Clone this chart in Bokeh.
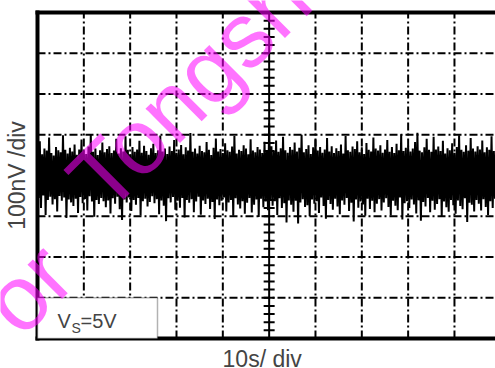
import numpy as np
from bokeh.plotting import figure
from bokeh.models import BoxAnnotation, Label, ColumnDataSource
from bokeh.embed import file_html
from bokeh.resources import INLINE

# ---- data ----
# time axis: 10 s/div, 10 divisions; amplitude: 100 nV/div, 8 divisions
sample_step_s = 0.25
# positive excursions (nV) every 0.5 s
hi = [58, 84, 52, 66, 61, 93, 55, 49, 70, 62,
      57, 99, 63, 54, 68, 59, 76, 51, 64, 88,
      60, 53, 71, 102, 58, 66, 50, 62, 81, 57,
      65, 72, 55, 61, 90, 54, 67, 59, 96, 63,
      52, 70, 58, 64, 85, 56, 73, 60, 51, 67,
      78, 55, 62, 98, 59, 66, 53, 71, 60, 87,
      56, 64, 75, 52, 69, 61, 104, 58, 66, 54,
      73, 60, 57, 82, 63, 50, 68, 91, 59, 65,
      55, 79, 62, 58, 71, 97, 54, 63, 60, 74,
      66, 52, 89, 61, 57, 70, 64, 55, 83, 62,
      128, 72, 60, 86, 58, 67, 95, 62, 56, 70,
      63, 81, 59, 68, 100, 57, 65, 74, 53, 69,
      88, 61, 70, 56, 64, 92, 59, 72, 55, 67,
      60, 76, 54, 97, 62, 58, 71, 65, 84, 57,
      69, 53, 80, 63, 59, 93, 66, 61, 74, 56,
      64, 87, 58, 70, 55, 78, 62, 101, 60, 68,
      73, 59, 66, 82, 105, 61, 57, 69, 90, 63,
      58, 95, 64, 71, 60, 85, 54, 67, 62, 79,
      56, 70, 99, 63, 58, 74, 61, 92, 66, 59,
      72, 64, 86, 57, 69, 63, 96, 60, 75, 62]
# negative excursions (nV) every 0.5 s
lo = [-55, -80, -49, -97, -60, -52, -71, -58, -88, -50,
      -62, -54, -104, -59, -66, -75, -57, -92, -53, -68,
      -58, -86, -51, -64, -101, -60, -70, -55, -63, -78,
      -61, -93, -56, -69, -52, -83, -109, -59, -66, -54,
      -87, -60, -72, -55, -98, -63, -57, -76, -65, -51,
      -68, -58, -95, -61, -74, -112, -56, -66, -53, -84,
      -62, -79, -55, -103, -60, -67, -58, -90, -64, -52,
      -96, -61, -70, -57, -82, -65, -107, -59, -73, -62,
      -54, -88, -66, -60, -99, -56, -71, -81, -63, -94,
      -67, -55, -91, -72, -59, -102, -57, -78, -64, -85,
      -60, -74, -63, -97, -56, -80, -68, -115, -61, -72,
      -89, -62, -118, -66, -58, -77, -73, -100, -59, -69,
      -63, -92, -54, -75, -106, -60, -70, -84, -57, -76,
      -95, -61, -72, -55, -87, -67, -113, -59, -79, -64,
      -71, -99, -57, -82, -62, -90, -69, -58, -86, -66,
      -56, -77, -98, -62, -74, -85, -54, -108, -68, -63,
      -80, -59, -71, -93, -61, -111, -65, -76, -55, -90,
      -62, -84, -70, -58, -101, -64, -78, -89, -60, -73,
      -94, -61, -75, -83, -56, -114, -67, -72, -88, -60,
      -69, -86, -58, -77, -97, -63, -80, -57, -92, -66]
x_grid = [10, 20, 30, 40, 60, 70, 80, 90]
y_grid = [-300, -200, -100, 100, 200, 300]
x_label = "10s/ div"
y_label = "100nV /div"

# screen extent 0..10 div (0..100 s), -4..4 div (-400..400 nV)
T0, T1 = 0.0, 100.0
V0, V1 = -400.0, 400.0

# build trace (alternating samples)
v = np.empty(len(hi) * 2)
v[0::2] = hi
v[1::2] = lo
t = np.arange(len(v)) * sample_step_s
src = ColumnDataSource(dict(t=t, v=v))

FONT = "Liberation Sans"

# the frame covers the whole canvas; scope area is 37..(off right) x 12..338 px
p = figure(width=495, height=368, x_range=(-7.986, 98.856),
           y_range=(-473.62, 429.45),
           output_backend="svg", toolbar_location=None,
           min_border_left=0, min_border_right=0, min_border_top=0,
           min_border_bottom=0, x_axis_location=None, y_axis_location=None)
p.outline_line_color = None
p.background_fill_color = "white"
p.border_fill_color = "white"
p.grid.visible = False

DASH = "8 3 2 3"
# dash-dot graticule
p.segment(x0=x_grid, y0=[V0] * len(x_grid), x1=x_grid, y1=[V1] * len(x_grid),
          line_color="black", line_width=2, line_dash=DASH)
p.segment(x0=[T0] * len(y_grid), y0=y_grid, x1=[T1] * len(y_grid), y1=y_grid,
          line_color="black", line_width=2, line_dash=DASH)

# center axes with ticks
p.segment(x0=[50, T0], y0=[V0, 0], x1=[50, T1], y1=[V1, 0],
          line_color="black", line_width=2)
yt = np.arange(V0, V1 + 1, 20)
p.scatter(x=np.full(len(yt), 50.0), y=yt, marker="dash", size=11,
          line_color="black", line_width=2)
xt = np.arange(T0, T1 + 1, 2)
p.scatter(x=xt, y=np.zeros(len(xt)), marker="dash", angle=np.pi / 2, size=11,
          line_color="black", line_width=2)

# noise trace
p.line("t", "v", source=src, line_color="black", line_width=2)

# frame borders (left, top, bottom)
p.segment(x0=[T0, T0, T0], y0=[V0, V1, V0], x1=[T0, T1, T1], y1=[V1, V1, V0],
          line_color="black", line_width=4, line_cap="square")

# V_S box
p.add_layout(BoxAnnotation(left=0, right=25.9, top=-300, bottom=-400,
                           fill_color="white", fill_alpha=1.0,
                           line_color="black", line_width=1.5))
p.add_layout(Label(x=4.32, y=-357.0, text="V", text_font=FONT,
                   text_font_size="20px", text_baseline="alphabetic"))
p.add_layout(Label(x=7.34, y=-373.6, text="S", text_font=FONT,
                   text_font_size="14px", text_baseline="alphabetic"))
p.add_layout(Label(x=9.28, y=-357.0, text="=5V", text_font=FONT,
                   text_font_size="20px", text_baseline="alphabetic"))

# axis titles
p.add_layout(Label(x=48.5, y=-451.0, text=x_label, text_font=FONT,
                   text_font_size="23px", text_align="center",
                   text_baseline="alphabetic"))
p.add_layout(Label(x=-4.53, y=0, text=y_label, text_font=FONT,
                   text_font_size="23px", text_align="center",
                   text_baseline="alphabetic", angle=np.pi / 2))

# watermark
p.add_layout(Label(x=10.08, y=-44.3, text="Tongsh", text_font=FONT,
                   text_font_size="92px", text_baseline="alphabetic",
                   text_align="left", angle=np.pi / 4,
                   text_color="#ff00ff", text_alpha=0.55))
p.add_layout(Label(x=4.1, y=-205.5, text="or", text_font=FONT,
                   text_font_size="92px", text_baseline="alphabetic",
                   text_align="right", angle=np.pi / 4,
                   text_color="#ff00ff", text_alpha=0.55))

open("out.html", "w").write(file_html(p, INLINE))
